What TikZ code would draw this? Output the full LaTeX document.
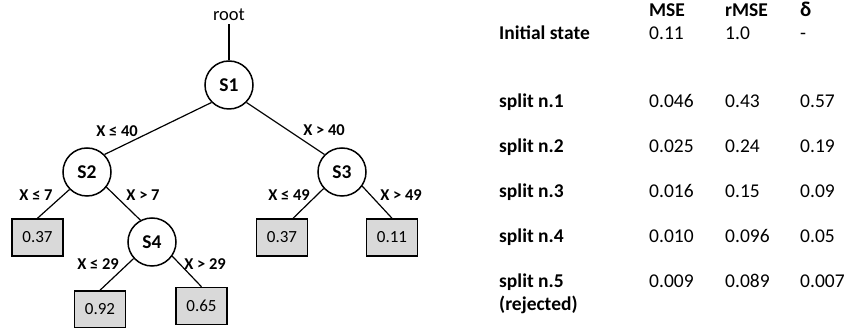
\documentclass[tikz,border=0pt]{standalone}
\usepackage{fontspec}
\setmainfont{Carlito}

\begin{document}
\begin{tikzpicture}[x=1pt,y=1pt,yscale=-1,
	split/.style={draw, circle, line width=1.5pt, minimum size=48pt, inner sep=0pt, font=\fontsize{19.5}{22}\selectfont\bfseries},
	leaf/.style={draw, rectangle, line width=1.5pt, fill={rgb, 255:red, 217; green, 217; blue, 217}, minimum width=51pt, minimum height=37pt, inner sep=0pt, font=\fontsize{17}{20}\selectfont},
	cond/.style={inner sep=0.75pt, font=\fontsize{16.5}{20}\selectfont\bfseries},
	edge/.style={line width=1.2pt},
	cell/.style={anchor=base west, inner sep=0pt, font=\fontsize{19.5}{22}\selectfont},
	rowhead/.style={cell, font=\fontsize{19.5}{22}\selectfont\bfseries}]
	\useasboundingbox (0,0) rectangle (844,328);

	% Text Node
	\node (root) at (229,21) [anchor=base, inner sep=3pt, font=\fontsize{18.5}{22}\selectfont] {root};
	% Split Nodes
	\node (s1) at (229,85) [split] {S1};
	\node (s2) at (87,172) [split] {S2};
	\node (s3) at (342,172) [split] {S3};
	\node (s4) at (152,242) [split] {S4};
	% Leaf Nodes
	\node (l1) at (37.5,237.5) [leaf] {0.37};
	\node (l2) at (100,309.5) [leaf] {0.92};
	\node (l3) at (201.5,306) [leaf] {0.65};
	\node (l4) at (282,237.5) [leaf] {0.37};
	\node (l5) at (392,237.5) [leaf] {0.11};

	% Connection
	\draw [edge] (root.south) -- (s1.north);
	\draw [edge] (s1.225) -- (s2.45);
	\draw [edge] (s1.315) -- (s3.135);
	\draw [edge] (s2.225) -- (l1.north);
	\draw [edge] (s2.-38) -- (s4.118);
	\draw [edge] (s4.222) -- (l2.north);
	\draw [edge] (s4.-35) -- (l3.north);
	\draw [edge] (s3.222) -- (l4.60);
	\draw [edge] (s3.-35) -- (l5.north);

	% Edge labels
	\node (le40) at (117,131) [cond] {X ≤ 40};
	\node (gt40) at (324,130) [cond] {X > 40};
	\node (le7) at (36,195) [cond] {X ≤ 7};
	\node (gt7) at (143,195) [cond] {X > 7};
	\node (le49) at (289,195) [cond] {X ≤ 49};
	\node (gt49) at (401,195) [cond] {X > 49};
	\node (le29) at (98,264) [cond] {X ≤ 29};
	\node (gt29) at (205,264) [cond] {X > 29};

	% Table
	\node (hmse) at (649,17) [rowhead] {MSE};
	\node (hrmse) at (725,17) [rowhead] {rMSE};
	\node (hdelta) at (800,17) [rowhead, font=\fontsize{21}{22}\selectfont\bfseries] {δ};
	\node (r0) at (499,40) [rowhead] {Initial state};
	\node (r0a) at (649,40) [cell] {0.11};
	\node (r0b) at (725,40) [cell] {1.0};
	\node (r0c) at (800,40) [cell] {-};
	\node (r1) at (499,108) [rowhead] {split n.1};
	\node (r1a) at (649,108) [cell] {0.046};
	\node (r1b) at (725,108) [cell] {0.43};
	\node (r1c) at (800,108) [cell] {0.57};
	\node (r2) at (499,153) [rowhead] {split n.2};
	\node (r2a) at (649,153) [cell] {0.025};
	\node (r2b) at (725,153) [cell] {0.24};
	\node (r2c) at (800,153) [cell] {0.19};
	\node (r3) at (499,198) [rowhead] {split n.3};
	\node (r3a) at (649,198) [cell] {0.016};
	\node (r3b) at (725,198) [cell] {0.15};
	\node (r3c) at (800,198) [cell] {0.09};
	\node (r4) at (499,243) [rowhead] {split n.4};
	\node (r4a) at (649,243) [cell] {0.010};
	\node (r4b) at (725,243) [cell] {0.096};
	\node (r4c) at (800,243) [cell] {0.05};
	\node (r5) at (499,288) [rowhead] {split n.5};
	\node (r5x) at (499,311) [rowhead] {(rejected)};
	\node (r5a) at (649,288) [cell] {0.009};
	\node (r5b) at (725,288) [cell] {0.089};
	\node (r5c) at (800,288) [cell] {0.007};

\end{tikzpicture}
\end{document}
